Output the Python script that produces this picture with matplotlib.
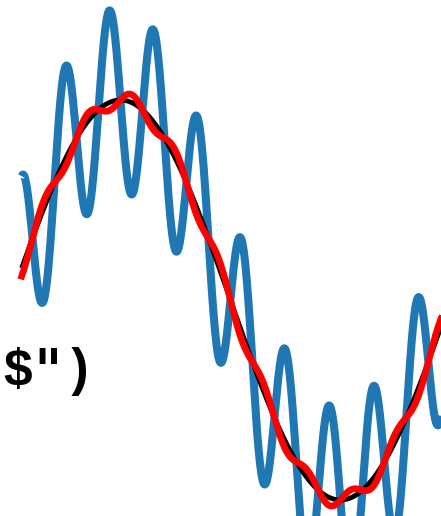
import numpy as np
import matplotlib.pyplot as plt

# signal parameters (base sine plus a 10x faster ripple)
base_amp = 1.0
noise_amp = 0.46
noise_cycles = 10
residual_amp = 0.04
t_start, t_stop = 0.16, 6.4

t = np.linspace(t_start, t_stop, 2000)
clean = base_amp * np.sin(t)
noisy = clean + noise_amp * np.sin(noise_cycles * t)
filtered = clean - residual_amp * np.sin(noise_cycles * t)

fig = plt.figure(figsize=(4.41, 5.16), dpi=100)
ax = fig.add_axes([0, 0, 1, 1])
ax.plot(t, noisy, color='#1f77b4', linewidth=5.8, solid_capstyle='butt')
ax.plot(t, clean, color='black', linewidth=3.5, solid_capstyle='butt')
ax.plot(t, filtered, color='red', linewidth=4.8)
ax.set_xlim(-0.15, 6.15)
ax.set_ylim(-1.08, 1.5)
ax.axis('off')

fig.text(2 / 441, 1 - 372 / 516, '$")', family='Liberation Mono',
         fontweight='bold', fontsize=37, ha='left', va='center',
         parse_math=False)

fig.savefig('out.png', dpi=100)
